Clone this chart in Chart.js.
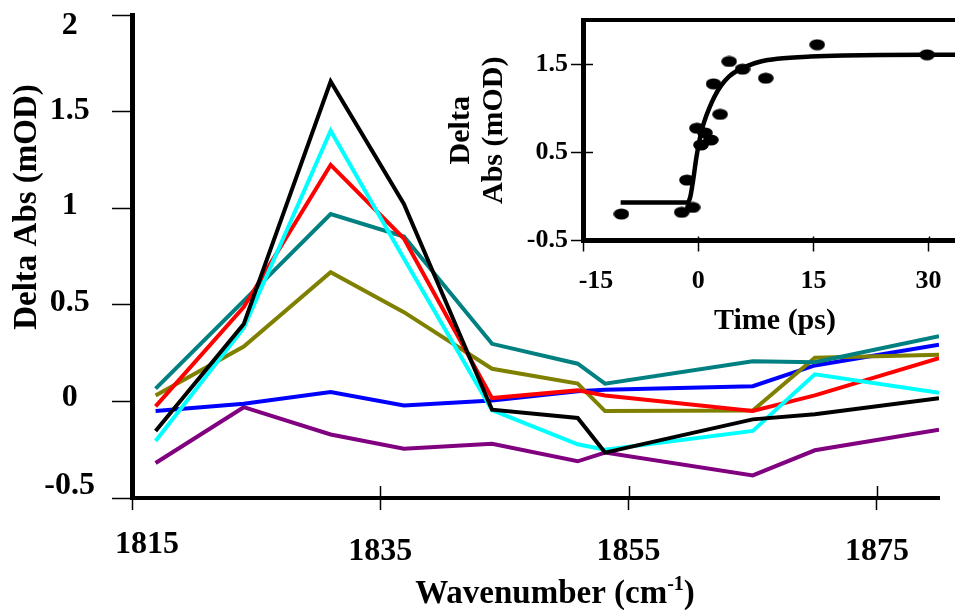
<!DOCTYPE html>
<html><head><meta charset="utf-8">
<script src="https://cdn.jsdelivr.net/npm/chart.js@4.4.0/dist/chart.umd.min.js"></script>
<style>
html,body{margin:0;padding:0;background:#fff;width:955px;height:610px;overflow:hidden;}
#wrap{position:relative;width:955px;height:610px;overflow:hidden;background:#fff;}
#main{position:absolute;left:0;top:0;}
#inset{position:absolute;left:430px;top:0;}
</style></head><body>
<div id="wrap">
<canvas id="main" width="955" height="610"></canvas>
<canvas id="inset" width="545" height="345"></canvas>
</div>
<script>
// ---------- main chart data ----------
const wavenumbers = [1816.9, 1824, 1831, 1836.9, 1844, 1850.9, 1853.1, 1865, 1870, 1880];
const seriesBlack  = [-0.153, 0.40, 1.656, 1.022, -0.043, -0.086, -0.265, -0.093, -0.067, 0.016];
const seriesCyan   = [-0.205, 0.38, 1.401, 0.74, -0.045, -0.222, -0.25, -0.153, 0.14, 0.045];
const seriesRed    = [-0.026, 0.488, 1.224, 0.843, 0.017, 0.057, 0.031, -0.05, 0.031, 0.224];
const seriesTeal   = [0.066, 0.52, 0.970, 0.853, 0.298, 0.195, 0.092, 0.208, 0.203, 0.338];
const seriesOlive  = [0.031, 0.284, 0.669, 0.462, 0.169, 0.092, -0.05, -0.047, 0.226, 0.241];
const seriesBlue   = [-0.05, -0.012, 0.048, -0.021, 0.005, 0.053, 0.06, 0.079, 0.186, 0.293];
const seriesPurple = [-0.319, -0.03, -0.171, -0.245, -0.219, -0.31, -0.265, -0.383, -0.253, -0.146];
const mainXTicks = [1815, 1835, 1855, 1875];
const mainYTicks = [-0.5, 0, 0.5, 1, 1.5, 2];

// ---------- inset data ----------
const dotTime   = [-10.0, -2.15, -0.72, -1.46, 0.36, 1.65, -0.16, 0.87, 2.86, 2.0, 4.03, 5.77, 8.8, 15.5, 29.8];
const dotSignal = [-0.20, -0.18, -0.125, 0.185, 0.583, 0.64, 0.773, 0.72, 0.93, 1.276, 1.53, 1.443, 1.34, 1.72, 1.606];
const fitTime   = [-10.1, -1.37, -1.03, -0.59, -0.29, 0.01, 0.36, 0.79, 1.44, 2.08, 2.95, 4.03, 5.12, 6.42, 8.14, 10.31, 14.63, 18.96, 29.78, 35];
const fitSignal = [-0.068, -0.068, -0.005, 0.223, 0.412, 0.564, 0.716, 0.848, 1.0, 1.125, 1.253, 1.36, 1.427, 1.48, 1.53, 1.56, 1.586, 1.598, 1.606, 1.606];
const insetXTicks = [-15, 0, 15, 30];
const insetYTicks = [-0.5, 0.5, 1.5];

const serif = "'Liberation Serif', 'Times New Roman', Times, serif";
const pts = (xs, ys) => xs.map((x, i) => ({x: x, y: ys[i]}));

// nudges for individual tick labels (style only)
function nudgePlugin(offsets) {
  return {
    id: 'nudge',
    beforeDraw(chart) {
      for (const id of Object.keys(offsets)) {
        const scale = chart.scales[id];
        if (!scale || !scale.getLabelItems) continue;
        const items = scale.getLabelItems();
        items.forEach(it => {
          if (it._nudged) return;
          const off = offsets[id][String(it.label)] || offsets[id]['*'];
          if (off) {
            const t = it.options.translation;
            it.options.translation = [t[0] + off[0], t[1] + off[1]];
          }
          it._nudged = true;
        });
      }
    }
  };
}

function fixTicks(arr) {
  return (scale) => { scale.ticks = arr.map(v => ({value: v})); };
}
function fitTo(size, horizontal) {
  return (scale) => {
    if (horizontal) scale.height = size; else scale.width = size;
    scale.paddingTop = 0; scale.paddingBottom = 0; scale.paddingLeft = 0; scale.paddingRight = 0;
  };
}

// ---------- main chart ----------
const mainDecor = {
  id: 'mainDecor',
  afterDraw(chart) {
    const ctx = chart.ctx, ca = chart.chartArea, xs = chart.scales.x;
    ctx.save();
    ctx.strokeStyle = '#000';
    ctx.lineWidth = 1.5;
    xs.ticks.forEach(t => {
      const px = Math.round(xs.getPixelForValue(t.value)) + 0.5;
      ctx.beginPath(); ctx.moveTo(px, ca.bottom - 12); ctx.lineTo(px, ca.bottom); ctx.stroke();
    });
    ctx.fillStyle = '#000';
    ctx.textBaseline = 'middle';
    // x title with superscript
    const big = `bold 33px ${serif}`, small = `bold 20px ${serif}`;
    const a = 'Wavenumber (cm', s = '-1', b = ')';
    ctx.font = big; const wa = ctx.measureText(a).width, wb = ctx.measureText(b).width;
    ctx.font = small; const ws = ctx.measureText(s).width;
    let x0 = 555 - (wa + ws + wb) / 2;
    const ty = 594;
    ctx.textAlign = 'left';
    ctx.font = big; ctx.fillText(a, x0, ty);
    ctx.font = small; ctx.fillText(s, x0 + wa, ty - 9);
    ctx.font = big; ctx.fillText(b, x0 + wa + ws, ty);
    // y title
    ctx.translate(27, 207);
    ctx.rotate(-Math.PI / 2);
    ctx.textAlign = 'center';
    ctx.font = big;
    ctx.fillText('Delta Abs (mOD)', 0, 0);
    ctx.restore();
  }
};

const lineDs = (label, data, color) => ({
  label: label,
  data: pts(wavenumbers, data),
  borderColor: color,
  backgroundColor: color,
  borderWidth: 4,
  pointRadius: 0,
  tension: 0,
  fill: false,
  borderJoinStyle: 'miter'
});

new Chart(document.getElementById('main'), {
  type: 'line',
  data: {
    datasets: [
      lineDs('black', seriesBlack, '#000000'),
      lineDs('cyan', seriesCyan, '#00FFFF'),
      lineDs('red', seriesRed, '#FF0000'),
      lineDs('teal', seriesTeal, '#008080'),
      lineDs('olive', seriesOlive, '#808000'),
      lineDs('blue', seriesBlue, '#0000FF'),
      lineDs('purple', seriesPurple, '#800080')
    ]
  },
  options: {
    responsive: false,
    animation: false,
    events: [],
    layout: {padding: {left: 0, top: 15, right: 16, bottom: 0}},
    plugins: {legend: {display: false}, tooltip: {enabled: false}},
    scales: {
      x: {
        type: 'linear', min: 1815, max: 1880,
        afterBuildTicks: fixTicks(mainXTicks),
        afterFit: fitTo(112, true),
        border: {display: true, color: '#000', width: 4},
        grid: {display: true, drawOnChartArea: false, drawTicks: true, tickLength: 12, tickColor: '#000', tickWidth: 1.5, color: '#000'},
        ticks: {
          autoSkip: false, maxRotation: 0, padding: 23, color: '#000',
          font: {family: serif, size: 32, weight: 'bold', lineHeight: 1.2},
          callback: (v) => String(v)
        }
      },
      y: {
        type: 'linear', min: -0.5, max: 2,
        afterBuildTicks: fixTicks(mainYTicks),
        afterFit: fitTo(132, false),
        border: {display: true, color: '#000', width: 5},
        grid: {display: true, drawOnChartArea: false, drawTicks: true, tickLength: 20, tickColor: '#000', tickWidth: 1.5, color: '#000'},
        ticks: {
          autoSkip: false, crossAlign: 'center', padding: 17, color: '#000',
          font: {family: serif, size: 32, weight: 'bold', lineHeight: 1.2},
          callback: (v) => String(v)
        }
      }
    }
  },
  plugins: [nudgePlugin({
    x: {'1815': [15, -7]},
    y: {'2': [0, 11], '-0.5': [0, -12], '0': [0, -4], '0.5': [0, -2], '1': [0, -2], '1.5': [0, -1]}
  }), mainDecor]
});

// ---------- inset chart ----------
const dot = document.createElement('canvas');
dot.width = 16; dot.height = 12;
(function () {
  const c = dot.getContext('2d');
  c.fillStyle = '#000';
  c.beginPath(); c.ellipse(8, 6, 7.8, 5.6, 0, 0, Math.PI * 2); c.fill();
})();

const insetDecor = {
  id: 'insetDecor',
  afterDraw(chart) {
    const ctx = chart.ctx, ca = chart.chartArea, xs = chart.scales.x, ys = chart.scales.y;
    ctx.save();
    ctx.strokeStyle = '#000';
    ctx.lineWidth = 4;
    ctx.beginPath();
    ctx.moveTo(ca.left - 2, ca.top); ctx.lineTo(ca.right, ca.top); ctx.lineTo(ca.right, ca.bottom);
    ctx.stroke();
    ctx.lineWidth = 1.5;
    ys.ticks.forEach(t => {
      const py = Math.round(ys.getPixelForValue(t.value)) + 0.5;
      ctx.beginPath(); ctx.moveTo(ca.left, py); ctx.lineTo(ca.left + 10, py); ctx.stroke();
    });
    xs.ticks.forEach(t => {
      const px = Math.round(xs.getPixelForValue(t.value)) + 0.5;
      ctx.beginPath(); ctx.moveTo(px, ca.bottom - 4); ctx.lineTo(px, ca.bottom); ctx.stroke();
    });
    ctx.restore();
  }
};

new Chart(document.getElementById('inset'), {
  type: 'line',
  data: {
    datasets: [
      {
        label: 'data',
        data: pts(dotTime, dotSignal),
        showLine: false,
        pointStyle: dot,
        pointRadius: 7,
        borderColor: '#000',
        backgroundColor: '#000'
      },
      {
        label: 'fit',
        data: pts(fitTime, fitSignal),
        borderColor: '#000',
        borderWidth: 4.5,
        pointRadius: 0,
        cubicInterpolationMode: 'monotone',
        fill: false
      }
    ]
  },
  options: {
    responsive: false,
    animation: false,
    events: [],
    layout: {padding: {left: 0, top: 20, right: 8, bottom: 0}},
    plugins: {legend: {display: false}, tooltip: {enabled: false}},
    scales: {
      x: {
        type: 'linear', min: -15, max: 35,
        afterBuildTicks: fixTicks(insetXTicks),
        afterFit: fitTo(104.5, true),
        border: {display: true, color: '#000', width: 5},
        grid: {display: true, drawOnChartArea: false, drawTicks: true, tickLength: 11, tickColor: '#000', tickWidth: 1.5, color: '#000'},
        ticks: {
          autoSkip: false, maxRotation: 0, padding: 14, color: '#000',
          font: {family: serif, size: 26, weight: 'bold', lineHeight: 1.2},
          callback: (v) => String(v)
        },
        title: {
          display: true, text: 'Time (ps)', color: '#000',
          font: {family: serif, size: 30, weight: 'bold', lineHeight: 1.2},
          padding: {top: 0, bottom: 6}
        }
      },
      y: {
        type: 'linear', min: -0.5, max: 2,
        afterBuildTicks: fixTicks(insetYTicks),
        afterFit: fitTo(153, false),
        border: {display: true, color: '#000', width: 5},
        grid: {display: true, drawOnChartArea: false, drawTicks: true, tickLength: 12, tickColor: '#000', tickWidth: 1.5, color: '#000'},
        ticks: {
          autoSkip: false, crossAlign: 'near', padding: 3, color: '#000',
          font: {family: serif, size: 26, weight: 'bold', lineHeight: 1.2},
          callback: (v) => String(v)
        },
        title: {
          display: true, text: ['Delta', 'Abs (mOD)'], color: '#000',
          font: {family: serif, size: 30, weight: 'bold', lineHeight: '33px'},
          padding: {top: 15, bottom: 0}
        }
      }
    }
  },
  plugins: [nudgePlugin({x: {'-15': [13, 0]}, y: {}}), insetDecor]
});
</script>
</body></html>
